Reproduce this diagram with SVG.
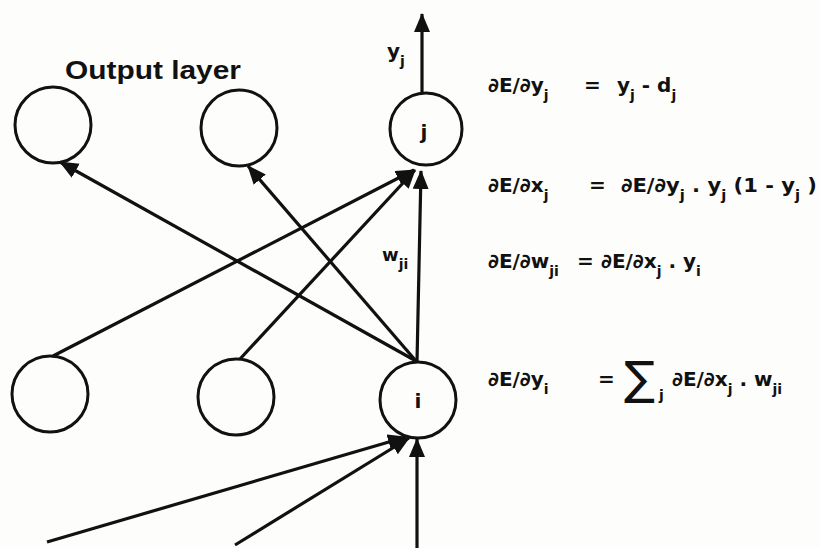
<svg xmlns="http://www.w3.org/2000/svg" width="820" height="548" viewBox="0 0 820 548">
<defs>
<marker id="ah" markerUnits="userSpaceOnUse" markerWidth="22" markerHeight="18" refX="18" refY="8" orient="auto">
<path d="M0,0 L19,8 L0,16 Z" fill="#111"/>
</marker>
<style>
.node{fill:none;stroke:#111;stroke-width:3}
.c{stroke:#111;stroke-width:3.2;fill:none;marker-end:url(#ah)}
.t{font-family:"DejaVu Sans","Liberation Sans",sans-serif;font-weight:bold;fill:#111}
.eq{font-size:20px}
.sub{font-size:14px}
.lbl{font-family:"Liberation Sans",Arial,sans-serif;font-weight:bold;fill:#111}
</style>
</defs>
<rect width="820" height="548" fill="#fdfdfb"/>
<g id="connectors">
<line class="c" x1="422" y1="92" x2="422" y2="14"/>
<line class="c" x1="53" y1="356" x2="414" y2="170"/>
<line class="c" x1="240" y1="359" x2="415" y2="170"/>
<line class="c" x1="417" y1="362" x2="421" y2="171"/>
<line class="c" x1="416" y1="361" x2="60" y2="162"/>
<line class="c" x1="416" y1="361" x2="248" y2="166"/>
<line class="c" x1="47" y1="542" x2="406" y2="437"/>
<line class="c" x1="235" y1="545" x2="409" y2="438"/>
<line class="c" x1="417" y1="548" x2="417" y2="439"/>
</g>
<g id="output-label"><text class="lbl" x="65" y="79" font-size="25" textLength="176" lengthAdjust="spacingAndGlyphs">Output  layer</text></g>
<g id="out1"><circle class="node" cx="53" cy="125" r="38"/></g>
<g id="out2"><circle class="node" cx="239" cy="128" r="38"/></g>
<g id="node-j"><circle class="node" cx="426" cy="129" r="36"/><text class="t" x="424" y="139" font-size="20" text-anchor="middle">j</text></g>
<g id="in1"><circle class="node" cx="50" cy="394" r="38"/></g>
<g id="in2"><circle class="node" cx="236" cy="397" r="38"/></g>
<g id="node-i"><circle class="node" cx="418" cy="400" r="38"/><text class="t" x="418" y="408" font-size="20" text-anchor="middle">i</text></g>
<g id="label-yj"><text class="t" x="387" y="58" font-size="20">y<tspan class="sub" dy="8">j</tspan></text></g>
<g id="label-wji"><text class="t" x="382" y="261" font-size="18">w<tspan class="sub" dy="8">ji</tspan></text></g>
<g id="eq1" class="t eq">
<text x="488" y="92">∂E/∂y<tspan class="sub" dy="8">j</tspan></text>
<text x="584" y="92">=</text>
<text x="617" y="92">y<tspan class="sub" dy="8">j</tspan><tspan dy="-8"> - d</tspan><tspan class="sub" dy="8">j</tspan></text>
</g>
<g id="eq2" class="t eq">
<text x="488" y="192">∂E/∂x<tspan class="sub" dy="8">j</tspan></text>
<text x="589" y="192">=</text>
<text x="621" y="192" textLength="196" lengthAdjust="spacingAndGlyphs">∂E/∂y<tspan class="sub" dy="8">j</tspan><tspan dy="-8"> . y</tspan><tspan class="sub" dy="8">j</tspan><tspan dy="-8"> (1 - y</tspan><tspan class="sub" dy="8">j</tspan><tspan dy="-8"> )</tspan></text>
</g>
<g id="eq3" class="t eq">
<text x="488" y="268">∂E/∂w<tspan class="sub" dy="8">ji</tspan></text>
<text x="577" y="268">=</text>
<text x="601" y="268">∂E/∂x<tspan class="sub" dy="8">j</tspan><tspan dy="-8"> . y</tspan><tspan class="sub" dy="8">i</tspan></text>
</g>
<g id="eq4" class="t eq">
<text x="488" y="386">∂E/∂y<tspan class="sub" dy="8">i</tspan></text>
<text x="598" y="386">=</text>
<text x="624" y="394" font-size="46" font-weight="normal">∑</text>
<text x="659" y="400" class="sub">j</text>
<text x="672" y="386">∂E/∂x<tspan class="sub" dy="8">j</tspan><tspan dy="-8"> . w</tspan><tspan class="sub" dy="8">ji</tspan></text>
</g>
</svg>
